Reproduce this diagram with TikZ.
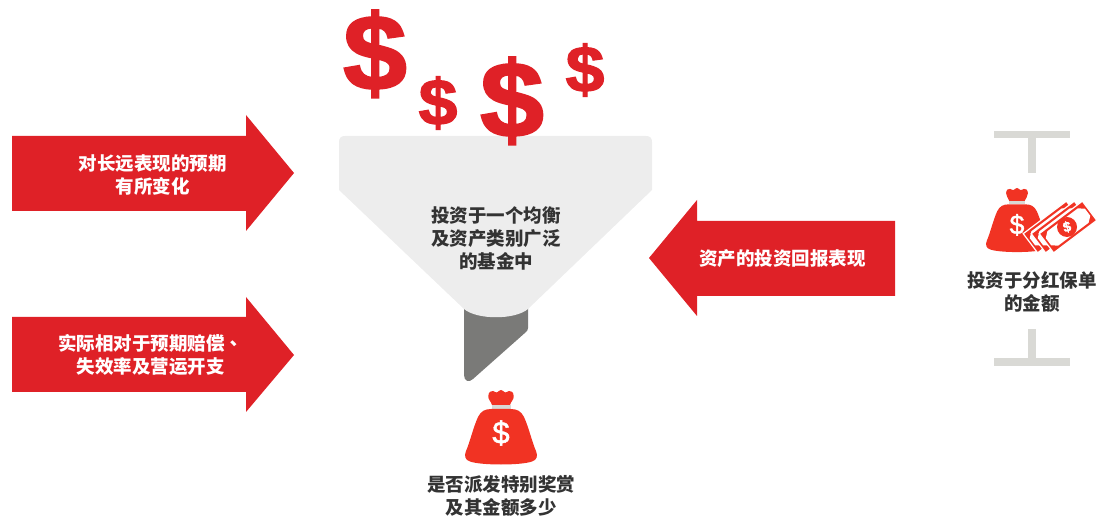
\documentclass[tikz,border=0pt]{standalone}
\usepackage{fontspec}
\setmainfont{Liberation Sans}
\newfontfamily\cjk{Noto Sans CJK SC}
\newfontfamily\cjktc{Noto Sans CJK TC}
\newfontfamily\heavyfont[UprightFont=* Bold,FakeBold=2]{Liberation Sans}
\newfontfamily\signfont[FakeBold=1.5]{Liberation Sans}
\definecolor{arrowred}{HTML}{DF2127}
\definecolor{bagred}{HTML}{F13323}
\definecolor{funnelgrey}{HTML}{EDEDED}
\definecolor{spoutgrey}{HTML}{7A7A78}
\definecolor{bargrey}{HTML}{D9D9D5}
\definecolor{textgrey}{HTML}{333333}
\tikzset{
  whitelabel/.style={text=white,font=\cjk\bfseries\fontsize{18.5}{23}\selectfont,align=center,inner sep=0pt},
  darklabel/.style={text=textgrey,font=\cjk\bfseries\fontsize{18.5}{23}\selectfont,align=center,inner sep=0pt},
  bigdollar/.style={text=arrowred,xscale=1.07,font=\heavyfont\fontsize{107}{107}\selectfont,inner sep=0pt},
  smalldollar/.style={text=arrowred,xscale=1.07,font=\heavyfont\fontsize{65}{65}\selectfont,inner sep=0pt},
  pics/moneybag/.style={code={
    \fill[bagred] (-9,15) .. controls (-10,11) and (-13,10) .. (-12.7,6) .. controls (-12.5,2) and (-10,0.5) .. (-8,1)
      .. controls (-6,1.5) and (-5,3) .. (-4,2.4) .. controls (-2.5,1.6) and (-1.5,0) .. (0,0)
      .. controls (1.5,0) and (2.5,1.6) .. (4,2.4) .. controls (5,3) and (6,1.5) .. (8,1)
      .. controls (10,0.5) and (12.5,2) .. (12.7,6) .. controls (13,10) and (10,11) .. (9,15) -- cycle;
    \fill[bargrey] (-9.5,15) rectangle (9.5,19);
    \fill[bagred] (-9.5,19) .. controls (-16,19) and (-20,21) .. (-23,27)
      .. controls (-28,38) and (-31,52) .. (-35,61) .. controls (-37,66) and (-36,70) .. (-31,71.5)
      .. controls (-20,75.5) and (20,75.5) .. (31,71.5) .. controls (36,70) and (37,66) .. (35,61)
      .. controls (31,52) and (28,38) .. (23,27) .. controls (20,21) and (16,19) .. (9.5,19) -- cycle;
    \node[text=white,font=\signfont\fontsize{31}{31}\selectfont,inner sep=0pt] (sign) at (0,43) {\$};
  }},
  pics/banknote/.style={code={
    \fill[bagred,draw=white,line width=1.2pt] (-27,-12) rectangle (27,12);
    \fill[white] (-19,-9) -- (19,-9) -- (24.5,-4.5) -- (24.5,4.5) -- (19,9) -- (-19,9) -- (-24.5,4.5) -- (-24.5,-4.5) -- cycle;
  }}
}
\begin{document}
\begin{tikzpicture}[x=1pt,y=-1pt]
\useasboundingbox (0,0) rectangle (1098,518);
% arrows
\fill[arrowred] (12,136) -- (246,136) -- (246,115) -- (294,173) -- (246,231) -- (246,211) -- (12,211) -- cycle;
\fill[arrowred] (12,317) -- (246,317) -- (246,297) -- (294,355) -- (246,412) -- (246,392) -- (12,392) -- cycle;
\fill[arrowred] (895,221) -- (697,221) -- (697,200) -- (649,258) -- (697,316) -- (697,296) -- (895,296) -- cycle;
\node[whitelabel] (expect) at (152.5,175) {对长远表现的预期\\有所变化};
\node[whitelabel] (claims) at (150.5,355) {实际相对于预期赔偿{\cjktc\bfseries 、}\\失效率及营运开支};
\node[whitelabel] (returns) at (782.5,259) {资产的投资回报表现};
% funnel
\fill[spoutgrey] (464,305) -- (528,305) -- (528,328) .. controls (528,330) and (527,331) .. (526,332) -- (473,379)
  .. controls (469,383) and (464,381) .. (464,375) -- cycle;
\fill[funnelgrey] (339,142) .. controls (339,138) and (341,136) .. (345,136) -- (646,136) .. controls (650,136) and (652,138) .. (652,142)
  -- (652,190) -- (528,309) .. controls (515,320) and (477,320) .. (464,309) -- (339,190) -- cycle;
\node[darklabel] (fund) at (496,238) {投资于一个均衡\\及资产类别广泛\\的基金中};
% dollars
\node[bigdollar] (dollara) at (375,54) {\$};
\node[smalldollar] (dollarb) at (438,103) {\$};
\node[bigdollar] (dollarc) at (512,101) {\$};
\node[smalldollar] (dollard) at (585,70) {\$};
% bag below funnel
\pic at (501,390) {moneybag};
\node[darklabel] (bonus) at (501,496) {是否派发特别奖赏\\及其金额多少};
% right side
\fill[bargrey] (994,131) rectangle (1070,138);
\fill[bargrey] (1028,138) rectangle (1036,173);
\fill[bargrey] (1028,329) rectangle (1036,358);
\fill[bargrey] (994,358) rectangle (1070,366);
\pic[scale=0.86,transform shape] at (1017,188) {moneybag};
\pic[rotate=37] at (1052,227) {banknote};
\pic[rotate=37] at (1060,227) {banknote};
\pic[rotate=37] at (1068,227) {banknote};
\fill[bagred] (1067,227) circle (10);
\node[text=white,rotate=15,font=\heavyfont\fontsize{14}{14}\selectfont,inner sep=0pt] (notesign) at (1067,227) {\$};
\node[darklabel] (amount) at (1032,292) {投资于分红保单\\的金额};
\end{tikzpicture}
\end{document}
